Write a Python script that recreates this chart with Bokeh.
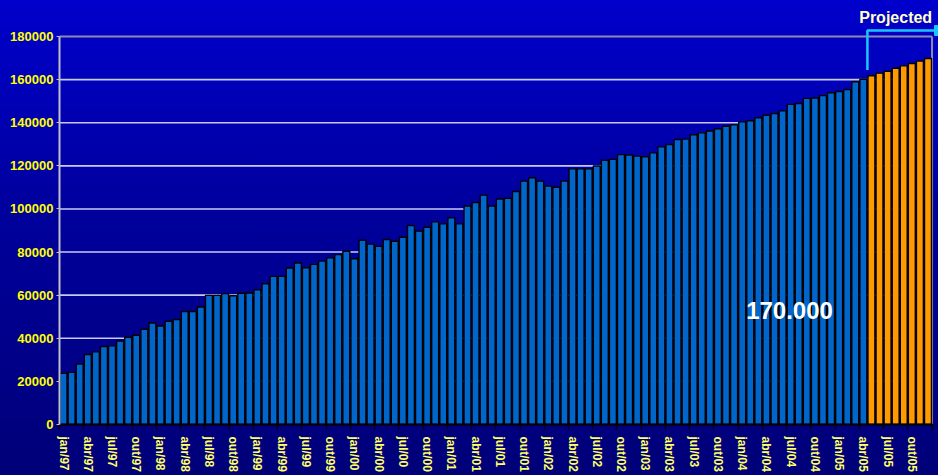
from bokeh.plotting import figure
from bokeh.models import FixedTicker, Range1d, Label
from bokeh.embed import file_html
from bokeh.resources import INLINE

# ---- data ----
month_abbr = ["jan", "fev", "mar", "abr", "mai", "jun", "jul", "ago", "set", "out", "nov", "dez"]
years = ["97", "98", "99", "00", "01", "02", "03", "04", "05"]
months = [f"{m}/{y}" for y in years for m in month_abbr]

actual = [
    23700, 24200, 28100, 32500, 33700, 36200, 36500, 38700, 40500, 41400, 44200, 47100,
    45700, 47900, 48700, 52400, 52400, 54500, 59900, 59900, 60700, 59700, 60900, 61000,
    62500, 65300, 68700, 68700, 72600, 74900, 72700, 74300, 75800, 77300, 78800, 80400,
    76900, 85500, 83700, 82700, 85800, 85000, 86900, 92300, 89700, 91500, 94000, 93100,
    95900, 93100, 101400, 103000, 106400, 101400, 104600, 105000, 108100, 112900, 114500, 112900,
    110600, 110100, 113000, 118600, 118600, 118600, 119900, 122600, 123000, 125200, 125000, 124500,
    124200, 126000, 128800, 129900, 132200, 132400, 134400, 135300, 136200, 137200, 138400, 139000,
    140400, 140900, 142300, 143500, 144300, 145500, 148500, 148900, 151300, 151500, 152600, 153900,
    154500, 155400, 159000, 160200,
]
projected = [161800, 163000, 163900, 165300, 166400, 167500, 168600, 169800]

y_ticks = [0, 20000, 40000, 60000, 80000, 100000, 120000, 140000, 160000, 180000]
big_label = "170.000"
proj_label = "Projected"

# ---- derived positions ----
n_act = len(actual)
n_all = n_act + len(projected)
x_act = list(range(n_act))
x_proj = list(range(n_act, n_all))
label_idx = list(range(0, n_all, 3))
boundaries = [i - 0.5 for i in range(0, n_all + 1, 3)]
x_left, x_right = -0.5, n_all - 0.5
y_top = y_ticks[-1]

FONT = "Liberation Sans"

p = figure(width=938, height=475, output_backend="svg", toolbar_location=None,
           x_range=Range1d(x_left, 108.3), y_range=Range1d(0, 193000),
           min_border_left=59, min_border_right=0, min_border_top=8, min_border_bottom=51)
p.styles = {"background": "linear-gradient(180deg, #0000CC 0%, #00009C 45%, #000078 100%)"}
p.background_fill_alpha = 0
p.border_fill_alpha = 0
p.outline_line_color = None
p.xgrid.visible = False
p.ygrid.visible = False

# grid lines (within plot area bounds)
grid_vals = y_ticks[1:-1]
p.segment(x0=[x_left] * len(grid_vals), x1=[x_right] * len(grid_vals), y0=grid_vals, y1=grid_vals,
          line_color="#C8C8F0", line_width=1.6)
# plot-area border (top and right)
p.segment(x0=[x_left, x_right], x1=[x_right, x_right], y0=[y_top, 0], y1=[y_top, y_top],
          line_color="#8C8CA8", line_width=2)

# bars
p.vbar(x=x_act, top=actual, width=0.86, fill_color="#0066CC", line_color="#000000", line_width=1.4)
p.vbar(x=x_proj, top=projected, width=0.86, fill_color="#FF9900", line_color="#000000", line_width=1.4)

# projected bracket
bx = n_act - 0.5
p.line(x=[bx, bx, 108.3], y=[164500, 182800, 182800], line_color="#1AC6FF", line_width=2.5)
p.rect(x=[108.3], y=[182800], width=8, height=10, width_units="screen", height_units="screen",
       fill_color="#1AC6FF", line_color="#1AC6FF")

p.add_layout(Label(x=103.0, y=192600, text=proj_label, text_align="center", text_baseline="top",
                   text_font=FONT, text_font_style="bold", text_font_size="16px",
                   text_color="#FFFFC8"))
p.add_layout(Label(x=89.86, y=52900, text=big_label, text_align="center", text_baseline="middle",
                   text_font=FONT, text_font_style="bold", text_font_size="24px",
                   text_color="#FFFFFF"))

# y axis
yax = p.yaxis[0]
yax.ticker = FixedTicker(ticks=y_ticks)
yax.major_label_overrides = {v: str(v) for v in y_ticks}
yax.bounds = (0, y_top)
yax.axis_line_color = "#C0C0C8"
yax.axis_line_width = 2
yax.major_tick_line_color = "#C0C0C8"
yax.major_tick_out = 3
yax.major_tick_in = 0
yax.minor_tick_line_color = None
yax.major_label_standoff = 3
yax.major_label_text_font = FONT
yax.major_label_text_font_style = "bold"
yax.major_label_text_font_size = "13px"
yax.major_label_text_color = "#FFFF00"

# x axis
xax = p.xaxis[0]
xax.ticker = FixedTicker(ticks=label_idx, minor_ticks=boundaries)
xax.major_label_overrides = {i: months[i] for i in label_idx}
xax.bounds = (x_left, x_right)
xax.axis_line_color = "#000000"
xax.axis_line_width = 2
xax.major_tick_out = 0
xax.major_tick_in = 0
xax.minor_tick_out = 5
xax.minor_tick_in = 0
xax.minor_tick_line_color = "#000000"
xax.minor_tick_line_width = 1.5
xax.major_label_orientation = "vertical"
xax.major_label_standoff = 7
xax.major_label_text_font = FONT
xax.major_label_text_font_style = "bold"
xax.major_label_text_font_size = "12px"
xax.major_label_text_color = "#FFFF66"

open("out.html", "w").write(file_html(p, INLINE))
